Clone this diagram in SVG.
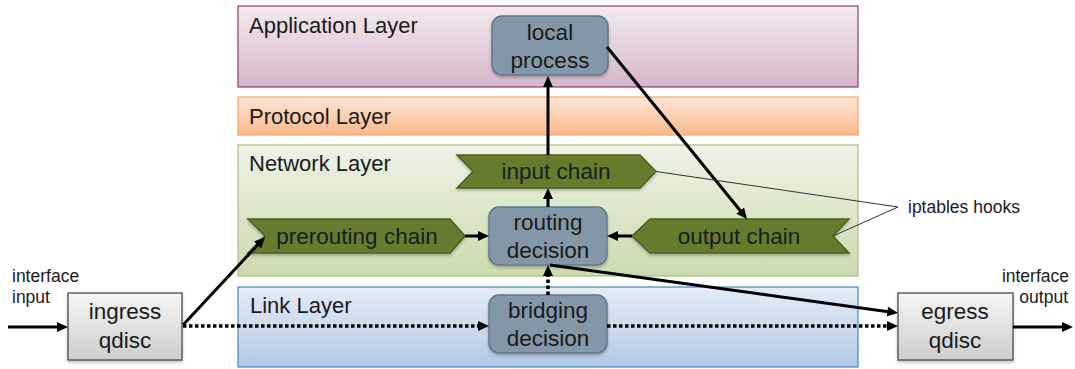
<svg xmlns="http://www.w3.org/2000/svg" width="1075" height="369" viewBox="0 0 1075 369">
  <defs>
    <linearGradient id="gApp" x1="0" y1="0" x2="0" y2="1">
      <stop offset="0" stop-color="#f3eaef"/>
      <stop offset="1" stop-color="#d5b7c9"/>
    </linearGradient>
    <linearGradient id="gProto" x1="0" y1="0" x2="0" y2="1">
      <stop offset="0" stop-color="#fde6d6"/>
      <stop offset="1" stop-color="#f9b98c"/>
    </linearGradient>
    <linearGradient id="gNet" x1="0" y1="0" x2="0" y2="1">
      <stop offset="0" stop-color="#eef3e7"/>
      <stop offset="1" stop-color="#cbdbae"/>
    </linearGradient>
    <linearGradient id="gLink" x1="0" y1="0" x2="0" y2="1">
      <stop offset="0" stop-color="#e4ecf6"/>
      <stop offset="1" stop-color="#b2c9e5"/>
    </linearGradient>
    <linearGradient id="gQdisc" x1="0" y1="0" x2="0" y2="1">
      <stop offset="0" stop-color="#f5f5f5"/>
      <stop offset="1" stop-color="#cdcdcd"/>
    </linearGradient>
    <filter id="shadow" x="-10%" y="-10%" width="130%" height="140%">
      <feDropShadow dx="0" dy="2" stdDeviation="1.5" flood-color="#000" flood-opacity="0.25"/>
    </filter>
    <marker id="arrow" viewBox="0 0 11 10" refX="3" refY="5" markerWidth="11" markerHeight="10" markerUnits="userSpaceOnUse" orient="auto">
      <path d="M0,0 L11,5 L0,10 z" fill="#000"/>
    </marker>
  </defs>
  <style>
    text { font-family: "Liberation Sans", Arial, sans-serif; fill: #1a1a1a; }
    .title { font-size: 22px; }
    .label { font-size: 22.5px; text-anchor: middle; }
    .small { font-size: 17.5px; }
    .decision { fill: #8497a8; stroke: #62788a; stroke-width: 1.5; }
    .chain { fill: #657b2d; stroke: #4d6120; stroke-width: 1.5; }
    .qdisc { fill: url(#gQdisc); stroke: #4a4a4a; stroke-width: 1.3; }
    .flow { fill: none; stroke: #000; stroke-width: 3; marker-end: url(#arrow); }
    .dotted { fill: none; stroke: #000; stroke-width: 3.5; stroke-dasharray: 3.5 2.5; marker-end: url(#arrow); }
    .hook { fill: none; stroke: #333; stroke-width: 1; }
  </style>

  <!-- layer bands -->
  <g id="application-layer">
    <rect x="238" y="6" width="620" height="81" fill="url(#gApp)" stroke="#8a3d78" stroke-width="1.2"/>
    <text class="title" x="249" y="33">Application Layer</text>
  </g>
  <g id="protocol-layer">
    <rect x="238" y="97" width="620" height="38" fill="url(#gProto)" stroke="#f1a766" stroke-width="1.2"/>
    <text class="title" x="249" y="124">Protocol Layer</text>
  </g>
  <g id="network-layer">
    <rect x="238" y="145" width="620" height="131" fill="url(#gNet)" stroke="#a6bf82" stroke-width="1.2"/>
    <text class="title" x="249" y="171">Network Layer</text>
  </g>
  <g id="link-layer">
    <rect x="238" y="287" width="620" height="80" fill="url(#gLink)" stroke="#3f88bf" stroke-width="1.2"/>
    <text class="title" x="250" y="313">Link Layer</text>
  </g>

  <!-- processing nodes -->
  <g id="local-process">
    <rect class="decision" x="492" y="16" width="116" height="59" rx="10" filter="url(#shadow)"/>
    <text class="label" x="550" y="40">local</text>
    <text class="label" x="550" y="68">process</text>
  </g>
  <g id="input-chain">
    <polygon class="chain" points="457,155 640,155 656,171.5 640,188 457,188 473,171.5" filter="url(#shadow)"/>
    <text class="label" x="556" y="179">input chain</text>
  </g>
  <g id="prerouting-chain">
    <polygon class="chain" points="248,219 450,219 465,236 450,253 248,253 265,236" filter="url(#shadow)"/>
    <text class="label" x="357" y="244">prerouting chain</text>
  </g>
  <g id="routing-decision">
    <rect class="decision" x="489" y="207" width="118" height="58" rx="10" filter="url(#shadow)"/>
    <text class="label" x="548" y="230">routing</text>
    <text class="label" x="548" y="258">decision</text>
  </g>
  <g id="output-chain">
    <polygon class="chain" points="849,219 650,219 632,236 650,253 849,253 833,236" filter="url(#shadow)"/>
    <text class="label" x="739" y="244">output chain</text>
  </g>
  <g id="bridging-decision">
    <rect class="decision" x="489" y="295" width="118" height="58" rx="10" filter="url(#shadow)"/>
    <text class="label" x="548" y="318">bridging</text>
    <text class="label" x="548" y="346">decision</text>
  </g>
  <g id="ingress-qdisc">
    <rect class="qdisc" x="68" y="293" width="114" height="67" filter="url(#shadow)"/>
    <text class="label" x="125" y="319">ingress</text>
    <text class="label" x="125" y="348">qdisc</text>
  </g>
  <g id="egress-qdisc">
    <rect class="qdisc" x="898" y="293" width="115" height="67" filter="url(#shadow)"/>
    <text class="label" x="955" y="319">egress</text>
    <text class="label" x="955" y="348">qdisc</text>
  </g>

  <!-- free labels -->
  <g id="interface-input">
    <text class="small" x="12" y="282">interface</text>
    <text class="small" x="12" y="303">input</text>
  </g>
  <g id="interface-output">
    <text class="small" x="1069" y="282" text-anchor="end">interface</text>
    <text class="small" x="1068" y="303" text-anchor="end">output</text>
  </g>
  <g id="iptables-hooks">
    <text class="small" x="908" y="213">iptables hooks</text>
  </g>

  <!-- connectors -->
  <g id="connectors">
    <line class="flow" x1="8" y1="327" x2="60" y2="327"/>
    <line class="flow" x1="183" y1="325" x2="259.5" y2="242.9"/>
    <line class="flow" x1="465" y1="236" x2="481" y2="236"/>
    <line class="flow" x1="632" y1="236" x2="615" y2="236"/>
    <line class="flow" x1="548" y1="207" x2="548" y2="196"/>
    <line class="flow" x1="548" y1="155" x2="548" y2="84"/>
    <line class="flow" x1="607" y1="47" x2="742" y2="212.8"/>
    <line class="flow" x1="550" y1="265" x2="890.1" y2="311.9"/>
    <line class="flow" x1="1013" y1="327" x2="1065" y2="327"/>
    <line class="dotted" x1="183" y1="326" x2="481" y2="326"/>
    <line class="dotted" x1="607" y1="326" x2="890" y2="326"/>
    <line class="dotted" x1="548" y1="295" x2="548" y2="273"/>
    <polyline class="hook" points="656,171.5 898,207 833,236"/>
  </g>
</svg>
